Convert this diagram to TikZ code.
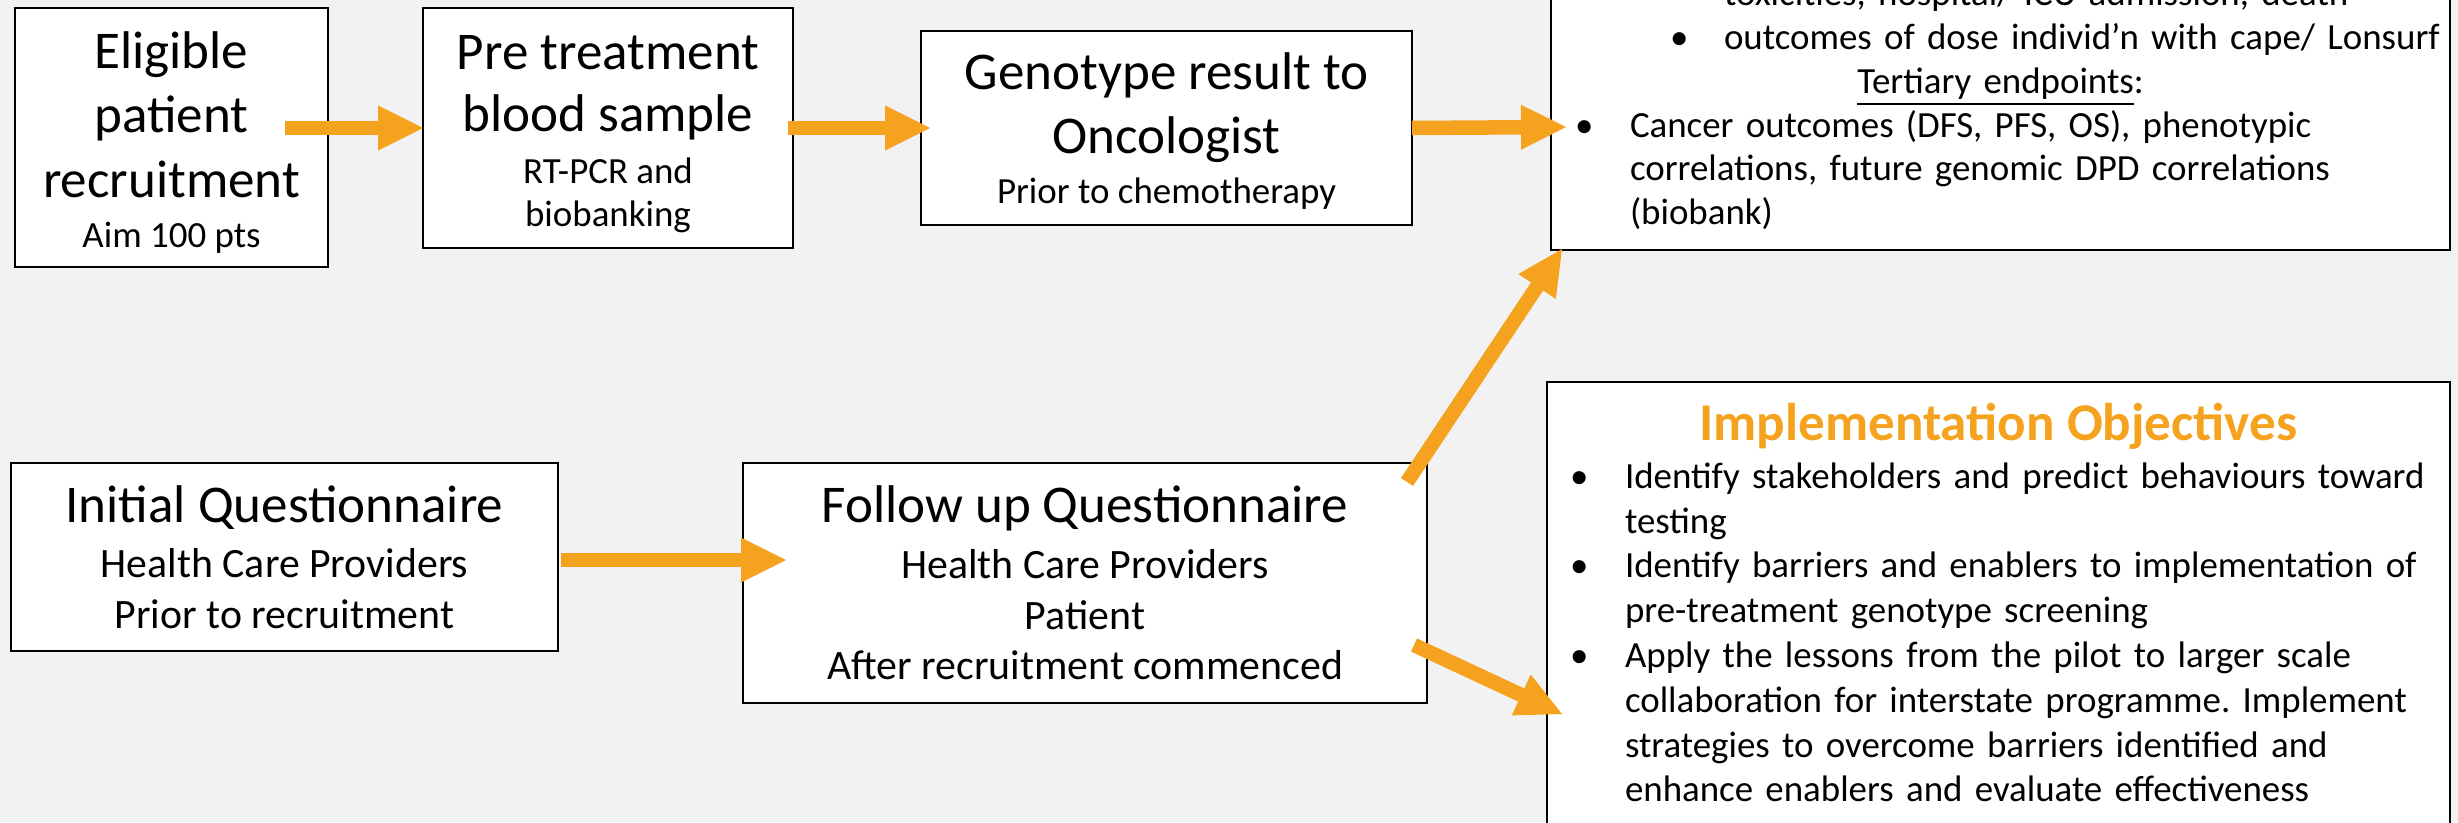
\documentclass[tikz,border=0pt]{standalone}
\usepackage{fontspec}
\setmainfont{Carlito}
\usepackage{tikz}
\usetikzlibrary{arrows.meta,positioning,calc}
\definecolor{slidebg}{HTML}{F2F2F2}
\definecolor{arrorange}{HTML}{F5A31F}
\newcommand{\fbig}{\fontsize{15.1pt}{18.3pt}\selectfont}
\newcommand{\fmid}{\fontsize{11.9pt}{14.4pt}\selectfont}
\newcommand{\fbody}{\fontsize{10.5pt}{12.75pt}\selectfont}
\newcommand{\fbodytight}{\fontsize{10.5pt}{12.5pt}\selectfont}
\newcommand{\bul}{\makebox[5.5mm][l]{\textbullet}}
\frenchspacing
\tikzset{
  stepbox/.style={draw=black,fill=white,line width=0.75pt,outer sep=0pt,
                  align=center,inner sep=0pt},
  listbox/.style={draw=black,fill=white,line width=0.75pt,outer sep=0pt,
                  align=left,inner ysep=2mm},
  flowarr/.style={-{Triangle[length=4.5mm,width=4.5mm,line width=0pt]},
                  line width=1.45mm,draw=arrorange}
}
\begin{document}
\begin{tikzpicture}[x=0.1mm,y=-0.1mm]
  \useasboundingbox (0,0) rectangle (2458,822);
  \clip (0,0) rectangle (2458,822);
  \fill[slidebg] (0,0) rectangle (2458,822);
  % top row
  \node[stepbox,font=\fbig,minimum width=31.3mm,minimum height=25.9mm]
    (elig) at (171.5,137.5)
    {\rule{0pt}{13.3pt}Eligible\\patient\\recruitment\\[-4pt]{\fbody Aim 100 pts}};
  \node[stepbox,font=\fbig,minimum width=37mm,minimum height=24mm]
    (pre) at (608,128)
    {\rule{0pt}{13.3pt}Pre treatment\\[-0.85pt]blood sample\\[-3.5pt]{\fbody RT-PCR and}\\[-6pt]{\fbody biobanking}};
  \node[stepbox,font=\fbig,minimum width=49.1mm,minimum height=19.4mm]
    (geno) at (1166.5,128)
    {\rule{0pt}{12.2pt}Genotype result to\\Oncologist\\[-4pt]{\fbody Prior to chemotherapy}};
  % questionnaires
  \node[stepbox,font=\fmid,minimum width=54.7mm,minimum height=18.8mm]
    (init) at (284.5,557)
    {{\fbig Initial Questionnaire}\\[1.5pt]Health Care Providers\\Prior to recruitment};
  \node[stepbox,font=\fmid,minimum width=68.4mm,minimum height=24mm]
    (fol) at (1085,583)
    {{\fbig Follow up Questionnaire}\\[1.5pt]Health Care Providers\\Patient\\After recruitment commenced};
  % right hand boxes
  \node[listbox,font=\fbodytight,text width=85.1mm,inner xsep=2.4mm,
        anchor=south west] (tr) at (1551,250)
    {\hspace*{14.9mm}toxicities, hospital/ ICU admission, death\\
     \mbox{\hspace*{9.5mm}\makebox[5.4mm][l]{\textbullet}outcomes of dose individ’n with cape/ Lonsurf}\\
     \makebox[\hsize]{\underline{Tertiary endpoints}:}\\
     \bul Cancer outcomes (DFS, PFS, OS), phenotypic\\
     \hspace*{5.5mm}correlations, future genomic DPD correlations\\
     \hspace*{5.5mm}(biobank)};
  \node[listbox,font=\fbody,text width=85.7mm,inner xsep=2.3mm,inner ysep=2.1mm,
        anchor=north west] (obj) at (1547,382)
    {\makebox[\hsize]{\fbig\bfseries\color{arrorange}Implementation Objectives}\\[0.9pt]
     \mbox{\bul Identify stakeholders and predict behaviours toward}\\
     \hspace*{5.5mm}testing\\
     \mbox{\bul Identify barriers and enablers to implementation of}\\
     \hspace*{5.5mm}pre-treatment genotype screening\\
     \bul Apply the lessons from the pilot to larger scale\\
     \mbox{\hspace*{5.5mm}collaboration for interstate programme. Implement}\\
     \hspace*{5.5mm}strategies to overcome barriers identified and\\
     \hspace*{5.5mm}enhance enablers and evaluate effectiveness\strut};
  % arrows
  \draw[flowarr] ($(elig.east |- pre.west)+(-43,0)$) -- (pre.west);
  \draw[flowarr] ($(pre.east)+(-5,0)$) -- ($(geno.west)+(9,0)$);
  \draw[flowarr] (geno.east) -- ($(geno.east -| tr.west)+(15,-1)$);
  \draw[flowarr] ($(init.east)+(3,3)$) -- ($(init.east -| fol.west)+(43,3)$);
  \draw[flowarr] ($(fol.north east)+(-20,19)$) -- ($(tr.south west)+(11,-1)$);
  \draw[flowarr] ($(fol.east)+(-13,62)$) -- ($(obj.north west)+(15,332)$);
\end{tikzpicture}
\end{document}
